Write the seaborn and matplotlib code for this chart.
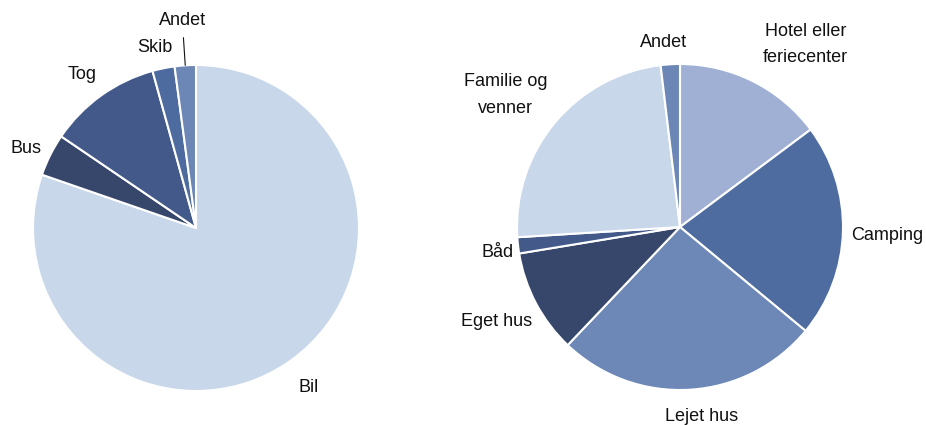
import numpy as np
import matplotlib
matplotlib.use("Agg")
import matplotlib.pyplot as plt
import seaborn as sns

# left pie: transport mode (share, %)
transport_labels = ["Bil", "Bus", "Tog", "Skib", "Andet"]
transport_values = [80.3, 4.2, 11.2, 2.2, 2.1]
transport_colors = ["#C9D7EA", "#36476B", "#42598A", "#4E6BA0", "#6C87B6"]

# right pie: accommodation (share, %)
stay_labels = ["Hotel eller\nferiecenter", "Camping", "Lejet hus", "Eget hus",
               "Båd", "Familie og\nvenner", "Andet"]
stay_values = [14.8, 21.2, 26.1, 10.3, 1.6, 24.1, 1.9]
stay_colors = ["#9FB0D4", "#4F6CA1", "#6D87B6", "#36476B",
               "#42598A", "#C9D7EA", "#6C87B6"]

sns.set_theme(style="white")
plt.rcParams["font.family"] = ["Liberation Sans Narrow", "Liberation Sans", "DejaVu Sans"]

W, H = 926, 425
fig = plt.figure(figsize=(W / 100, H / 100), dpi=100)
R = 163

# label placement (radius units, x, y, ha)
left_label_pos = [(0.63, -0.98, "left"), (-0.945, 0.49, "right"),
                  (-0.61, 0.94, "right"), (-0.25, 1.11, "center"),
                  (-0.08, 1.27, "center")]
right_label_pos = [(0.77, 1.12, "center"), (1.05, -0.05, "left"),
                   (0.135, -1.165, "center"), (-0.908, -0.58, "right"),
                   (-1.018, -0.155, "right"), (-1.07, 0.81, "center"),
                   (-0.1, 1.13, "center")]


def make_ax(cx, cy):
    ax = fig.add_axes([(cx - R) / W, (H - cy - R) / H, 2 * R / W, 2 * R / H])
    ax.axis("off")
    return ax


def draw_pie(ax, values, labels, colors, positions):
    wedges, texts = ax.pie(
        values, labels=labels, colors=colors, startangle=90, counterclock=False,
        labeldistance=1.1, radius=1,
        wedgeprops=dict(edgecolor="white", linewidth=1.5),
        textprops=dict(fontsize=13, color="#111111", linespacing=1.75),
    )
    ax.set_xlim(-1, 1)
    ax.set_ylim(-1, 1)
    ax.set_aspect("equal")
    for t, (x, y, ha) in zip(texts, positions):
        t.set_position((x, y))
        t.set_ha(ha)
        t.set_va("center")
        t.set_clip_on(False)
    for w in wedges:
        w.set_clip_on(False)
    return wedges, texts


ax1 = make_ax(196, 228)
w1, t1 = draw_pie(ax1, transport_values, transport_labels, transport_colors, left_label_pos)
# leader line for the small "Andet" slice
a = np.deg2rad((w1[4].theta1 + w1[4].theta2) / 2)
ax1.plot([1.0 * np.cos(a), 1.17 * np.cos(a)],
         [1.0 * np.sin(a), 1.17 * np.sin(a)], color="#111111", lw=0.8, clip_on=False)

ax2 = make_ax(680, 227)
draw_pie(ax2, stay_values, stay_labels, stay_colors, right_label_pos)

fig.savefig("out.png", dpi=100, facecolor="white")
